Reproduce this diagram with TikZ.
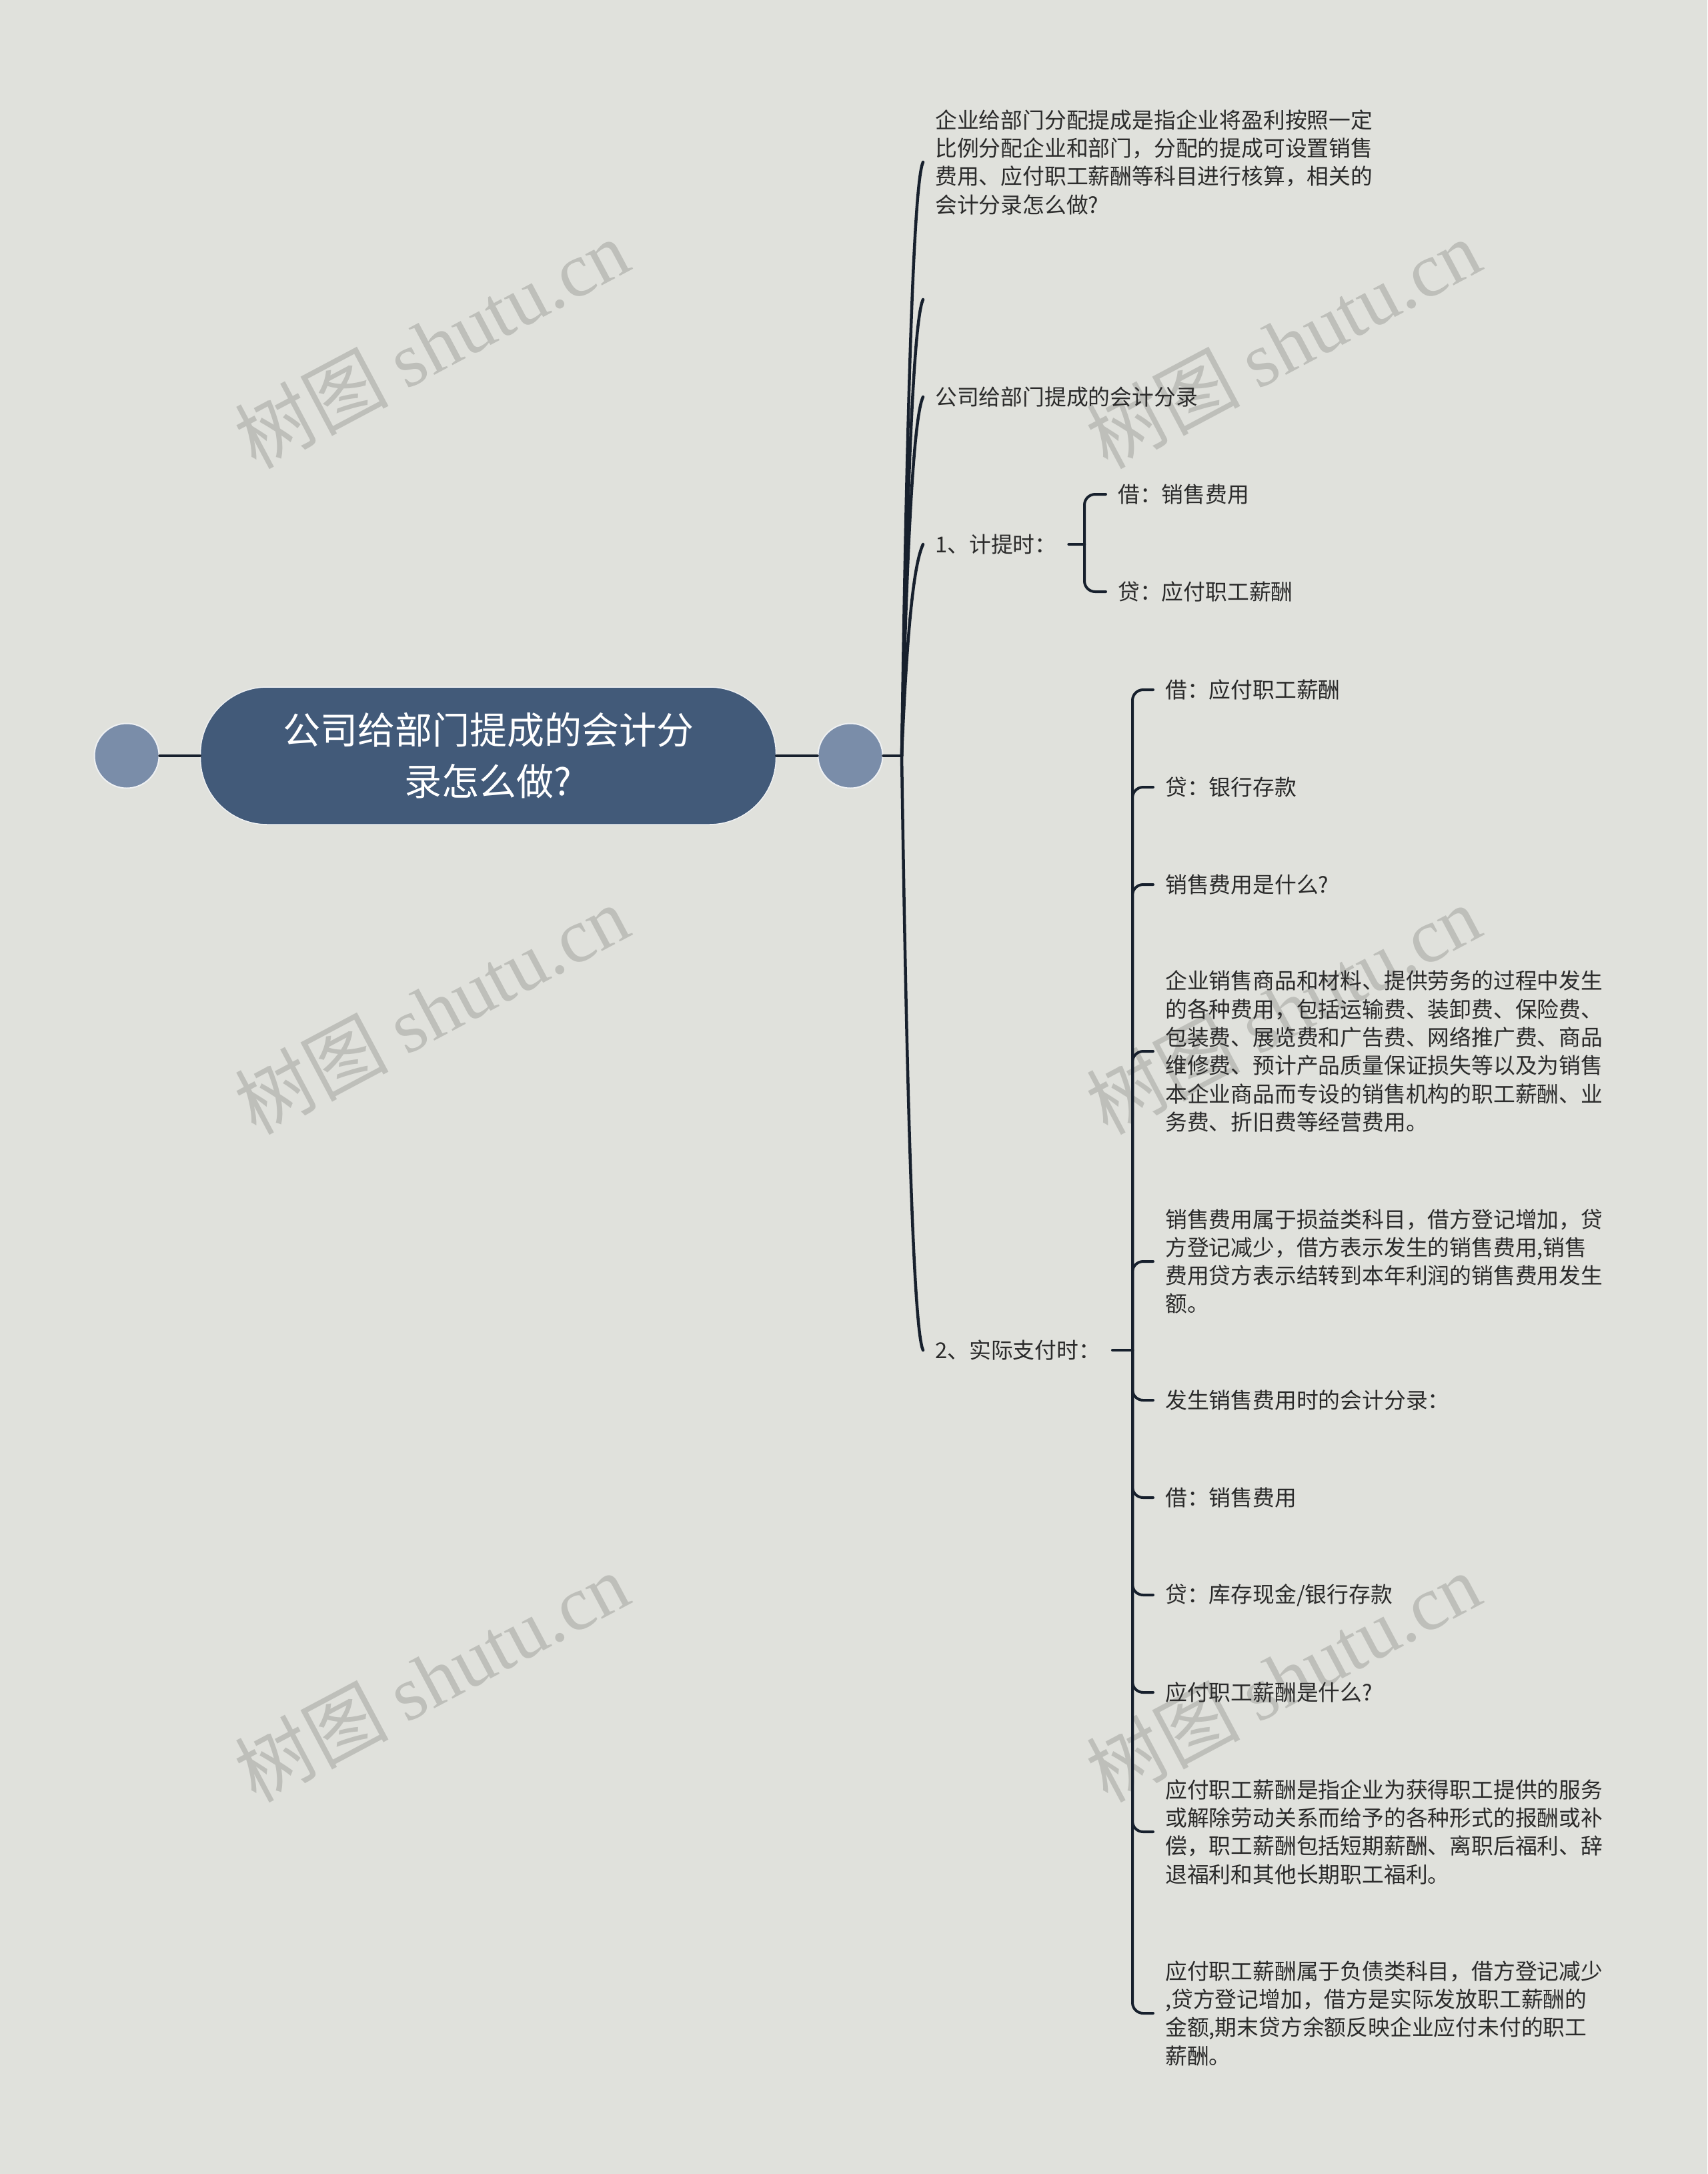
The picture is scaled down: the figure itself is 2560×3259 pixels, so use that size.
\documentclass[tikz,border=0pt]{standalone}
\usepackage{fontspec}
\setmainfont{Noto Sans CJK SC}
\newfontfamily\wmserif{Liberation Serif}
\definecolor{bg}{HTML}{E0E1DC}
\definecolor{rootfill}{HTML}{425A79}
\definecolor{circfill}{HTML}{7A8DA9}
\definecolor{linec}{HTML}{17202D}
\definecolor{txt}{HTML}{2B2B2B}
\definecolor{wm}{HTML}{BEBFBA}
\definecolor{halo}{HTML}{EEF0F2}
\tikzset{
  mainline/.style={draw=linec, line width=4.5bp, line cap=round},
  subline/.style={draw=linec, line width=4bp, line cap=round, rounded corners=16bp},
  txtnode/.style={anchor=west, inner xsep=18bp, inner ysep=0pt, align=left, text=txt,
                  font=\fontsize{32.8bp}{42.3bp}\selectfont},
  wmark/.style={rotate=28, text=wm, inner sep=0pt, font=\fontsize{115bp}{115bp}\selectfont},
  dotcirc/.style={circle, fill=circfill, draw=halo, line width=2bp, minimum size=97bp, inner sep=0pt}
}
\begin{document}
\begin{tikzpicture}[x=1bp, y=-1bp]
% background
\fill[bg] (0,0) rectangle (2560,3259);
\useasboundingbox (0,0) rectangle (2560,3259);

% watermarks
\node[wmark] (w1) at (647,515)  {树图 {\wmserif shutu.cn}};
\node[wmark] (w2) at (1924,515) {树图 {\wmserif shutu.cn}};
\node[wmark] (w3) at (647,1513)  {树图 {\wmserif shutu.cn}};
\node[wmark] (w4) at (1924,1513) {树图 {\wmserif shutu.cn}};
\node[wmark] (w5) at (647,2514)  {树图 {\wmserif shutu.cn}};
\node[wmark] (w6) at (1924,2514) {树图 {\wmserif shutu.cn}};

% root and side circles
\node[rectangle, rounded corners=100bp, minimum width=863bp, minimum height=206bp,
      fill=rootfill, draw=halo, line width=1.5bp, text=white, align=center, inner sep=0pt,
      font=\fontsize{56bp}{77bp}\selectfont] (root) at (732,1133)
      {公司给部门提成的会计分\\录怎么做?};
\node[dotcirc] (lc) at (190,1133) {};
\node[dotcirc] (rc) at (1275,1133) {};
\coordinate (hub) at (1352,1133);

\draw[mainline] (lc) -- (root);
\draw[mainline] (root) -- (rc);
\draw[mainline] (rc) -- (hub);

% first level children
\node[txtnode] (a) at (1384,243) {企业给部门分配提成是指企业将盈利按照一定\\比例分配企业和部门，分配的提成可设置销售\\费用、应付职工薪酬等科目进行核算，相关的\\会计分录怎么做?};
\coordinate (e1) at (1384,449);
\node[txtnode] (b) at (1384,595) {公司给部门提成的会计分录};
\node[txtnode] (p1) at (1384,816) {1、计提时：};
\node[txtnode] (p2) at (1384,2024) {2、实际支付时：};

\draw[mainline] (hub) .. controls (1360,597) and (1370,273) .. (a.west);
\draw[mainline] (hub) .. controls (1360,723) and (1370,479) .. (e1);
\draw[mainline] (hub) .. controls (1360,810) and (1370,625) .. (b.west);
\draw[mainline] (hub) .. controls (1360,943) and (1370,846) .. (p1.west);
\draw[mainline] (hub) .. controls (1360,1668) and (1370,1994) .. (p2.west);

% children of 1
\coordinate (k1) at (1626,816);
\node[txtnode] (d1) at (1658,741) {借：销售费用};
\node[txtnode] (d2) at (1658,887) {贷：应付职工薪酬};
\draw[mainline] (p1.east) -- (k1);
\draw[subline] (k1) |- (d1.west);
\draw[subline] (k1) |- (d2.west);

% children of 2
\coordinate (k2) at (1698,2024);
\node[txtnode] (c1) at (1729,1034) {借：应付职工薪酬};
\node[txtnode] (c2) at (1729,1180) {贷：银行存款};
\node[txtnode] (c3) at (1729,1326) {销售费用是什么?};
\node[txtnode] (c4) at (1729,1576) {企业销售商品和材料、提供劳务的过程中发生\\的各种费用，包括运输费、装卸费、保险费、\\包装费、展览费和广告费、网络推广费、商品\\维修费、预计产品质量保证损失等以及为销售\\本企业商品而专设的销售机构的职工薪酬、业\\务费、折旧费等经营费用。};
\node[txtnode] (c5) at (1729,1891) {销售费用属于损益类科目，借方登记增加，贷\\方登记减少，借方表示发生的销售费用,销售\\费用贷方表示结转到本年利润的销售费用发生\\额。};
\node[txtnode] (c6) at (1729,2099) {发生销售费用时的会计分录：};
\node[txtnode] (c7) at (1729,2245) {借：销售费用};
\node[txtnode] (c8) at (1729,2391) {贷：库存现金/银行存款};
\node[txtnode] (c9) at (1729,2537) {应付职工薪酬是什么?};
\node[txtnode] (c10) at (1729,2746) {应付职工薪酬是指企业为获得职工提供的服务\\或解除劳动关系而给予的各种形式的报酬或补\\偿，职工薪酬包括短期薪酬、离职后福利、辞\\退福利和其他长期职工福利。};
\node[txtnode] (c11) at (1729,3018) {应付职工薪酬属于负债类科目，借方登记减少\\,贷方登记增加，借方是实际发放职工薪酬的\\金额,期末贷方余额反映企业应付未付的职工\\薪酬。};
\draw[mainline] (p2.east) -- (k2);
\foreach \c in {c1,c2,c3,c4,c5,c6,c7,c8,c9,c10,c11}
  \draw[subline] (k2) |- (\c.west);
\end{tikzpicture}
\end{document}
